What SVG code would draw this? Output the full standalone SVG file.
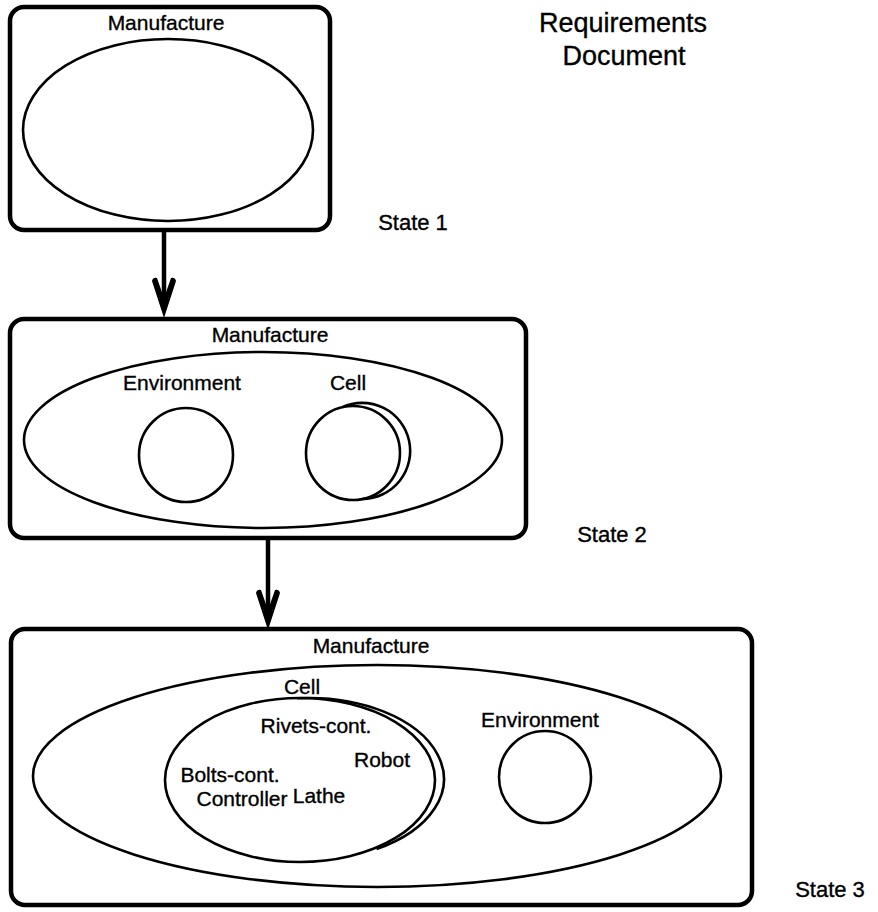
<svg xmlns="http://www.w3.org/2000/svg" width="878" height="912" viewBox="0 0 878 912">
<style>
.box{fill:none;stroke:#000;stroke-width:4.5}
.sh{fill:none;stroke:#000;stroke-width:2.6}
text{font-family:"Liberation Sans",Arial,Helvetica,sans-serif;fill:#000;stroke:#000;stroke-width:0.35;text-anchor:middle}
.t{font-size:21px}
.st{font-size:22px}
.big{font-size:27px}
.conn{stroke:#000;stroke-width:4.5;fill:none}
</style>
<defs>
<marker id="arrow" markerUnits="userSpaceOnUse" viewBox="-22 -14 42 28" markerWidth="42" markerHeight="28" refX="0" refY="0" orient="auto" overflow="visible">
<path d="M18,0 L-19,-12 Q-23,-11 -22,-7 L-2,0 L-22,7 Q-23,11 -19,12 Z" fill="#000"/>
</marker>
</defs>
<rect width="878" height="912" fill="#fff"/>

<g id="title">
<text class="big" x="623" y="32">Requirements</text>
<text class="big" x="624" y="65">Document</text>
</g>

<g id="state1">
<rect class="box" x="10" y="7" width="320" height="223" rx="14"/>
<text class="t" x="166" y="30">Manufacture</text>
<ellipse class="sh" cx="168" cy="130" rx="145" ry="91"/>
<text class="st" x="413" y="230">State 1</text>
</g>

<g id="state2">
<rect class="box" x="10" y="319" width="516" height="219" rx="14"/>
<text class="t" x="270" y="342">Manufacture</text>
<ellipse class="sh" cx="263" cy="440" rx="239" ry="88"/>
<g id="s2-environment">
<text class="t" x="182" y="390">Environment</text>
<circle class="sh" cx="186" cy="455" r="47"/>
</g>
<g id="s2-cell">
<text class="t" x="348" y="390">Cell</text>
<circle class="sh" cx="353" cy="453" r="47"/>
<path class="sh" d="M342.3,407.2 A48,48 0 1 1 362.7,498.9"/>
</g>
<text class="st" x="612" y="542">State 2</text>
</g>

<g id="state3">
<rect class="box" x="11" y="629" width="741" height="276" rx="14"/>
<text class="t" x="371" y="653">Manufacture</text>
<ellipse class="sh" cx="377" cy="776" rx="344" ry="111"/>
<g id="s3-cell">
<text class="t" x="302" y="694">Cell</text>
<ellipse class="sh" cx="300" cy="780" rx="135" ry="82"/>
<path class="sh" d="M297.2,698.3 A135,81 0 0 1 376.5,849.1"/>
<text class="t" x="316" y="733">Rivets-cont.</text>
<text class="t" x="382" y="767">Robot</text>
<text class="t" x="230" y="782">Bolts-cont.</text>
<text class="t" x="242" y="806">Controller</text>
<text class="t" x="319" y="803">Lathe</text>
</g>
<g id="s3-environment">
<text class="t" x="540" y="727">Environment</text>
<circle class="sh" cx="545" cy="777" r="46"/>
</g>
<text class="st" x="830" y="897">State 3</text>
</g>

<g id="connectors">
<line class="conn" x1="164" y1="232" x2="164" y2="300" marker-end="url(#arrow)"/>
<line class="conn" x1="268" y1="540" x2="268" y2="612" marker-end="url(#arrow)"/>
</g>
</svg>
